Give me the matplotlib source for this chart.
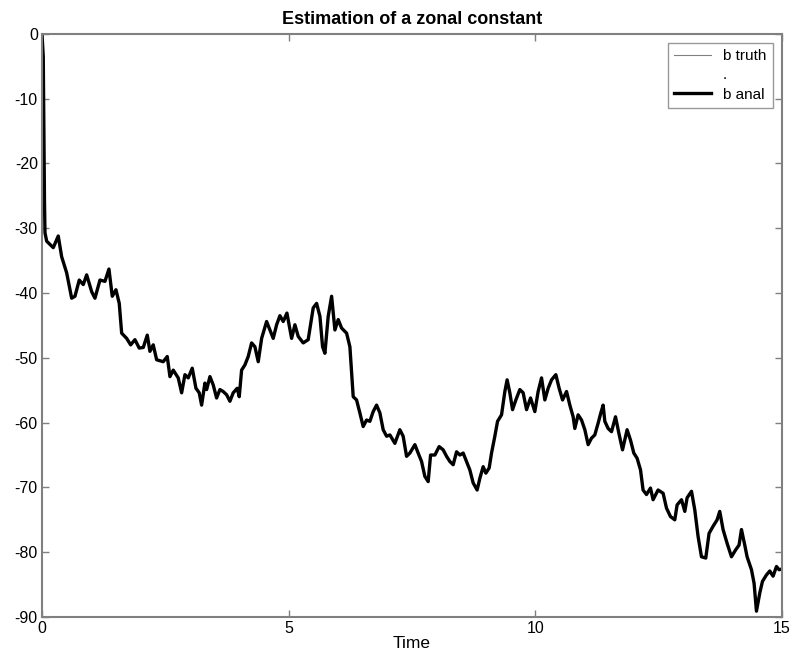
import matplotlib
matplotlib.use("Agg")
import matplotlib.pyplot as plt

plt.rcParams['font.family'] = ['Liberation Sans', 'DejaVu Sans']
plt.rcParams['axes.unicode_minus'] = False

# Data
time = [0.000, 0.026, 0.041, 0.051, 0.061, 0.095, 0.229, 0.330, 0.399, 0.501,
        0.602, 0.669, 0.756, 0.837, 0.906, 1.008, 1.074, 1.176, 1.277, 1.358,
        1.425, 1.500, 1.567, 1.616, 1.717, 1.798, 1.885, 1.972, 2.054, 2.135,
        2.189, 2.256, 2.325, 2.459, 2.540, 2.595, 2.662, 2.763, 2.832, 2.899,
        2.966, 3.047, 3.122, 3.189, 3.237, 3.304, 3.339, 3.406, 3.473, 3.541,
        3.608, 3.675, 3.744, 3.811, 3.878, 3.959, 4.000, 4.048, 4.115, 4.182,
        4.251, 4.318, 4.385, 4.454, 4.555, 4.622, 4.689, 4.758, 4.825, 4.892,
        4.967, 5.062, 5.129, 5.196, 5.297, 5.398, 5.500, 5.569, 5.636, 5.690,
        5.737, 5.804, 5.873, 5.940, 6.007, 6.075, 6.177, 6.244, 6.311, 6.379,
        6.446, 6.513, 6.582, 6.649, 6.716, 6.785, 6.852, 6.919, 6.988, 7.055,
        7.156, 7.257, 7.324, 7.393, 7.460, 7.562, 7.628, 7.697, 7.764, 7.831,
        7.880, 7.967, 8.054, 8.135, 8.204, 8.271, 8.338, 8.407, 8.474, 8.541,
        8.609, 8.676, 8.743, 8.824, 8.879, 8.946, 9.001, 9.068, 9.116, 9.183,
        9.238, 9.319, 9.386, 9.432, 9.487, 9.542, 9.609, 9.690, 9.757, 9.826,
        9.907, 9.994, 10.061, 10.130, 10.197, 10.264, 10.333, 10.420, 10.487, 10.556,
        10.637, 10.704, 10.771, 10.805, 10.872, 10.941, 11.008, 11.075, 11.143, 11.210,
        11.277, 11.332, 11.379, 11.413, 11.480, 11.549, 11.630, 11.697, 11.772, 11.865,
        11.934, 12.001, 12.068, 12.137, 12.189, 12.258, 12.339, 12.392, 12.493, 12.595,
        12.664, 12.745, 12.832, 12.879, 12.968, 13.035, 13.082, 13.171, 13.238, 13.305,
        13.373, 13.460, 13.527, 13.608, 13.690, 13.744, 13.811, 13.892, 13.981, 14.069,
        14.135, 14.184, 14.251, 14.298, 14.387, 14.440, 14.488, 14.555, 14.610, 14.691,
        14.758, 14.825, 14.894, 14.946, 15.000]

b_anal = [0.0, -3.5, -17.0, -26.0, -30.7, -32.0, -33.0, -31.2, -34.4, -36.9,
          -40.8, -40.5, -38.0, -38.7, -37.2, -39.8, -40.8, -38.0, -38.2, -36.3,
          -40.5, -39.5, -41.6, -46.2, -47.0, -48.0, -47.2, -48.5, -48.4, -46.5,
          -49.0, -48.0, -50.3, -50.6, -49.8, -52.9, -51.9, -53.1, -55.4, -52.6,
          -53.1, -51.6, -54.7, -55.4, -57.3, -53.9, -54.9, -52.9, -54.2, -56.2,
          -54.9, -55.2, -55.7, -56.7, -55.4, -54.7, -56.0, -51.9, -51.1, -49.8,
          -47.7, -48.3, -50.6, -47.0, -44.4, -45.7, -47.0, -44.9, -43.5, -44.4,
          -43.1, -47.0, -44.9, -46.7, -47.7, -47.2, -42.3, -41.6, -43.6, -48.3,
          -49.3, -43.6, -40.5, -45.7, -44.1, -45.4, -46.2, -48.3, -56.0, -56.5,
          -58.5, -60.6, -59.6, -59.8, -58.3, -57.3, -58.5, -61.1, -62.1, -61.9,
          -63.2, -61.1, -62.1, -65.2, -64.7, -63.4, -64.7, -66.0, -68.3, -69.1,
          -65.0, -65.0, -63.7, -64.2, -65.2, -66.0, -66.5, -64.5, -65.0, -64.7,
          -66.0, -67.3, -69.3, -70.4, -68.6, -66.8, -67.8, -67.0, -64.7, -62.1,
          -59.8, -58.8, -55.2, -53.4, -55.4, -58.0, -56.5, -54.9, -55.4, -58.0,
          -56.2, -58.3, -55.2, -53.1, -56.5, -54.7, -53.4, -52.6, -54.7, -56.5,
          -55.2, -57.3, -59.1, -60.9, -58.8, -59.6, -61.1, -63.4, -62.4, -61.9,
          -60.1, -58.5, -57.3, -59.8, -60.9, -61.4, -59.1, -61.6, -64.2, -61.1,
          -62.7, -64.7, -65.5, -67.3, -70.4, -71.1, -70.1, -71.9, -70.4, -70.9,
          -73.2, -74.5, -75.0, -72.7, -71.9, -73.7, -71.6, -70.6, -73.5, -77.6,
          -80.7, -80.9, -77.1, -76.0, -75.0, -73.7, -76.5, -78.6, -80.7, -79.6,
          -78.9, -76.5, -78.9, -80.7, -82.7, -84.8, -89.1, -86.3, -84.5, -83.5,
          -82.9, -83.7, -82.2, -82.7, -82.6]

# the truth curve lies under the analysis curve in the picture
b_truth = list(b_anal)

x_ticks = [0, 5, 10, 15]
y_ticks = [0, -10, -20, -30, -40, -50, -60, -70, -80, -90]

fig = plt.figure(figsize=(7.92, 6.59), dpi=100)
ax = fig.add_axes([0.053, 0.0637, 0.934, 0.885])

ax.plot(time, b_truth, color='#808080', lw=0.8, label='b truth')
ax.plot([], [], linestyle='none', label='.')
ax.plot(time, b_anal, color='black', lw=2.4, label='b anal')

ax.set_xlim(0, 15)
ax.set_ylim(-90, 0)
ax.set_xticks(x_ticks)
ax.set_yticks(y_ticks)
ax.tick_params(direction='in', top=True, right=True, length=5, width=1,
               color='#808080', labelsize=11.5, pad=3)
for s in ax.spines.values():
    s.set_color('#808080')
    s.set_linewidth(1.5)

ax.set_title('Estimation of a zonal constant', fontsize=13, fontweight='bold', pad=7)
ax.set_xlabel('Time', fontsize=12.5, labelpad=0)

leg = ax.legend(loc='upper right', fontsize=11, frameon=True, fancybox=False,
                edgecolor='#808080', borderaxespad=0.6, handlelength=2.4,
                labelspacing=0.35, borderpad=0.4)
leg.get_frame().set_linewidth(1.0)

fig.savefig('out.png', dpi=100)
